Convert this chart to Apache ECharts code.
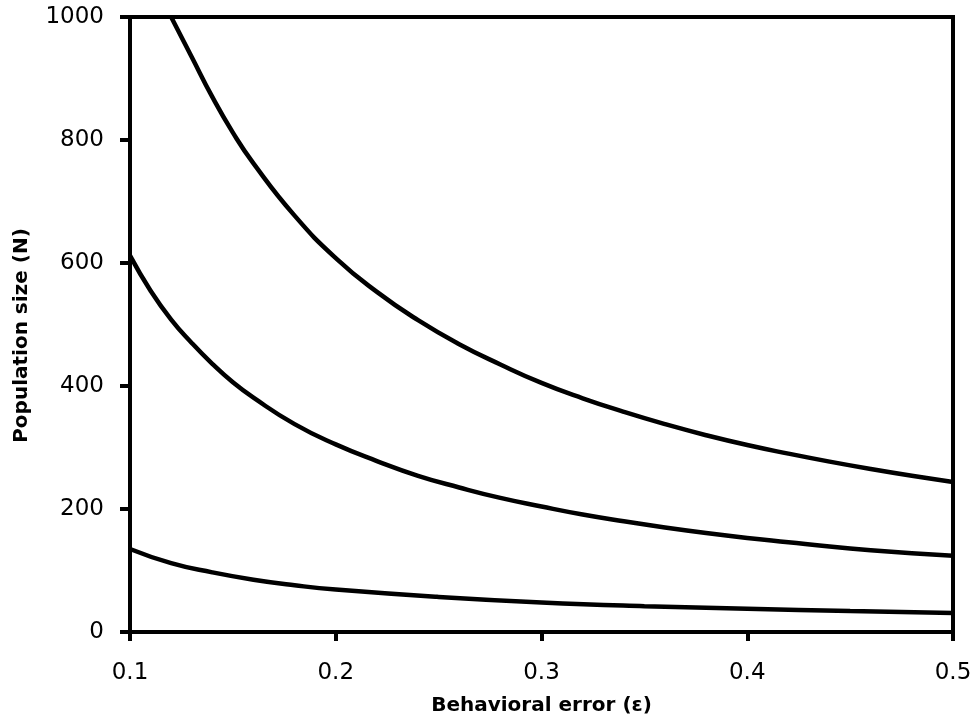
<!DOCTYPE html>
<html><head><meta charset="utf-8">
<script src="https://cdn.jsdelivr.net/npm/echarts@6/dist/echarts.min.js"></script>
<style>html,body{margin:0;padding:0;background:#fff}#c{width:977px;height:727px}</style>
</head><body><div id="c"></div>
<script>
const xTop = [0.12,0.13,0.14,0.15,0.16,0.18,0.20,0.22,0.24,0.26,0.28,0.30,0.32,0.34,0.36,0.38,0.40,0.42,0.44,0.46,0.48,0.50];
const yTop = [1000,935,870,812,762,677,608,553,507,468,435,405,380,358,338,320,304,290,277,265,254,244];
const xMid = [0.10,0.11,0.12,0.13,0.14,0.15,0.16,0.18,0.20,0.22,0.24,0.26,0.28,0.30,0.32,0.34,0.36,0.38,0.40,0.42,0.44,0.46,0.48,0.50];
const yMid = [612,555,508,470,436,406,381,338,305,278,254,235,218,204,191,180,170,161,153,146,139,133,128,124];
const xLow = [0.10,0.12,0.14,0.16,0.18,0.20,0.25,0.30,0.35,0.40,0.45,0.50];
const yLow = [135,112,97,85,76,69,57,48,42,38,34,31];
const xTicks = [0.1,0.2,0.3,0.4,0.5];
const yTicks = [0,200,400,600,800,1000];

const zip = (a,b)=>a.map((v,i)=>[v,b[i]]);
const chart = echarts.init(document.getElementById('c'));
const lineStyle = {color:'#000', width:4.5};
const mk = (d)=>({type:'line', data:d, smooth:true, showSymbol:false, symbol:'none', lineStyle, clip:true});
const nameFont = {fontFamily:'DejaVu Sans', fontWeight:'bold', fontSize:20, color:'#000'};
chart.setOption({
  animation:false,
  backgroundColor:'#fff',
  grid:{left:130, right:24, top:17, bottom:95, outerBoundsMode:'none', containLabel:false, show:true, borderColor:'#000', borderWidth:4, backgroundColor:'transparent'},
  xAxis:{type:'value', min:0.1, max:0.5, interval:0.1,
    name:'Behavioral error (ε)', nameLocation:'middle', nameGap:64,
    nameTextStyle:nameFont,
    axisLine:{show:true, lineStyle:{color:'#000', width:4}},
    axisTick:{show:true, length:9, lineStyle:{color:'#000', width:4}},
    axisLabel:{margin:30, fontFamily:'DejaVu Sans', fontSize:23, color:'#000', formatter:v=>{const t=xTicks.find(k=>Math.abs(k-v)<1e-9);return t===undefined?'':t.toFixed(1);}},
    splitLine:{show:false}},
  yAxis:{type:'value', min:0, max:1000, interval:200,
    name:'Population size (N)', nameLocation:'middle', nameGap:98, nameRotate:90,
    nameTextStyle:Object.assign({}, nameFont, {padding:[0,22,0,0]}),
    axisLine:{show:true, lineStyle:{color:'#000', width:4}},
    axisTick:{show:true, length:10, lineStyle:{color:'#000', width:4}},
    axisLabel:{margin:26, fontFamily:'DejaVu Sans', fontSize:23, color:'#000', formatter:v=>yTicks.includes(v)?String(v):''},
    splitLine:{show:false}},
  series:[mk(zip(xTop,yTop)), mk(zip(xMid,yMid)), mk(zip(xLow,yLow))]
});
</script></body></html>
